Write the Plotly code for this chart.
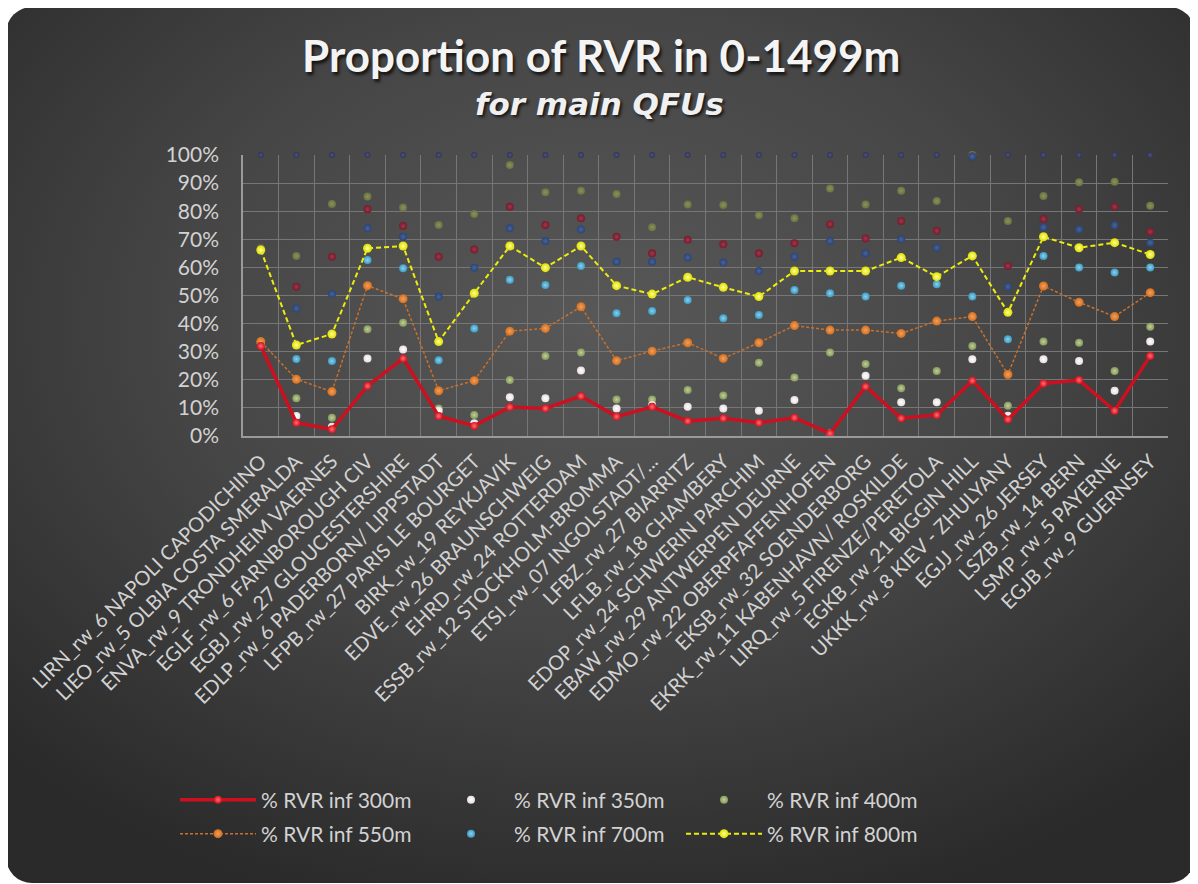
import base64
import plotly.graph_objects as go

categories = [
    "LIRN_rw_6 NAPOLI CAPODICHINO", "LIEO_rw_5 OLBIA COSTA SMERALDA", "ENVA_rw_9 TRONDHEIM VAERNES",
    "EGLF_rw_6 FARNBOROUGH CIV", "EGBJ_rw_27 GLOUCESTERSHIRE", "EDLP_rw_6 PADERBORN/ LIPPSTADT",
    "LFPB_rw_27 PARIS LE BOURGET", "BIRK_rw_19 REYKJAVIK", "EDVE_rw_26 BRAUNSCHWEIG",
    "EHRD_rw_24 ROTTERDAM", "ESSB_rw_12 STOCKHOLM-BROMMA", "ETSI_rw_07 INGOLSTADT/...",
    "LFBZ_rw_27 BIARRITZ", "LFLB_rw_18 CHAMBERY", "EDOP_rw_24 SCHWERIN PARCHIM",
    "EBAW_rw_29 ANTWERPEN DEURNE", "EDMO_rw_22 OBERPFAFFENHOFEN", "EKSB_rw_32 SOENDERBORG",
    "EKRK_rw_11 KABENHAVN/ ROSKILDE", "LIRQ_rw_5 FIRENZE/PERETOLA", "EGKB_rw_21 BIGGIN HILL",
    "UKKK_rw_8 KIEV - ZHULYANY", "EGJJ_rw_26 JERSEY", "LSZB_rw_14 BERN",
    "LSMP_rw_5 PAYERNE", "EGJB_rw_9 GUERNSEY",
]

rvr_300 = [32.0, 4.7, 2.4, 17.8, 27.6, 7.1, 3.6, 10.3, 9.8, 14.2, 6.9, 10.4, 5.3,
           6.3, 4.7, 6.5, 0.9, 17.6, 6.3, 7.5, 19.7, 5.9, 18.7, 19.9, 9.0, 28.5]
rvr_350 = [33.0, 7.1, 3.3, 27.6, 30.8, 9.0, 4.5, 13.8, 13.4, 23.3, 9.8, 11.0, 10.4,
           9.8, 9.0, 12.8, 0.9, 21.4, 12.0, 12.0, 27.3, 7.2, 27.3, 26.7, 16.1, 33.6]
rvr_400 = [33.6, 13.4, 6.5, 38.0, 40.3, 9.8, 7.5, 19.9, 28.5, 29.7, 13.0, 13.0, 16.4,
           14.4, 26.1, 20.8, 29.7, 25.6, 17.0, 23.1, 32.0, 10.8, 33.6, 33.2, 23.1, 38.9]
rvr_550 = [33.6, 20.2, 15.8, 53.5, 48.8, 16.1, 19.7, 37.3, 38.3, 46.0, 26.8, 30.2, 33.2,
           27.6, 33.2, 39.3, 37.7, 37.7, 36.5, 40.9, 42.5, 21.9, 53.4, 47.6, 42.5, 51.0]
rvr_700 = [66.0, 27.4, 26.7, 62.6, 59.7, 27.0, 38.3, 55.6, 53.7, 60.5, 43.7, 44.5, 48.4,
           41.9, 43.1, 52.0, 50.8, 49.6, 53.5, 54.0, 49.6, 34.4, 64.1, 60.0, 58.2, 60.0]
rvr_800 = [66.2, 32.4, 36.3, 66.8, 67.6, 33.6, 50.8, 67.6, 59.9, 67.6, 53.5, 50.5, 56.5,
           52.9, 49.6, 58.7, 58.7, 58.7, 63.5, 56.7, 64.1, 44.0, 70.9, 67.0, 68.8, 64.6]
# further series drawn without legend entries
rvr_1000 = [66.0, 45.4, 50.5, 73.9, 70.9, 49.6, 59.9, 73.9, 69.4, 73.5, 62.0, 62.0, 63.5,
            61.7, 58.7, 63.8, 69.4, 65.0, 70.0, 67.0, 99.5, 53.1, 74.3, 73.5, 75.0, 68.8]
rvr_1200 = [66.0, 53.1, 63.8, 80.7, 74.7, 63.8, 66.4, 81.6, 75.1, 77.5, 70.9, 65.0, 69.8,
            68.2, 65.0, 68.6, 75.4, 70.3, 76.5, 73.0, 99.5, 60.5, 77.2, 80.7, 81.6, 72.7]
rvr_1300 = [66.8, 64.1, 82.6, 85.2, 81.3, 75.1, 79.0, 96.4, 86.7, 87.3, 86.1, 74.3, 82.4,
            82.2, 78.6, 77.5, 88.1, 82.4, 87.3, 83.6, 100.0, 76.5, 85.4, 90.3, 90.5, 81.9]
rvr_1499 = [100, 100, 100, 100, 100, 100, 100, 100, 100, 100, 100, 100, 100,
            100, 100, 100, 100, 100, 100, 100, 100, 100, 100, 100, 100, 100]

# the page adds an 8px body margin; figure fills the rest of the 1198x884 window
OFF = 8
W, H = 1198 - OFF, 884 - OFF
ML, MT = 243 - OFF, 155 - OFF
MR = W - (1168 - OFF)
MB = H - (436 - OFF)
PW = W - ML - MR
PH = H - MT - MB


def px_x(page_x):
    return (page_x - OFF - ML) / PW


def px_y(page_y):
    return 1 - (page_y - OFF - MT) / PH


def frac(vals):
    return [v / 100 for v in vals]


svg = f'''<svg xmlns="http://www.w3.org/2000/svg" width="{W}" height="{H}" viewBox="0 0 {W} {H}">
<defs><radialGradient id="g" cx="0.5" cy="0.36" r="0.70">
<stop offset="0" stop-color="#585858"/><stop offset="0.5" stop-color="#464646"/>
<stop offset="1" stop-color="#2a2a2a"/></radialGradient></defs>
<rect x="0" y="0" width="{W}" height="{H}" fill="#ffffff"/>
<rect x="-2" y="-1" width="{W - 1}" height="{H}" rx="26" ry="26" fill="url(#g)"/></svg>'''
bg_src = "data:image/svg+xml;base64," + base64.b64encode(svg.encode()).decode()

fig = go.Figure()


def dots(name, vals, color, center, size=8, show=False, legend="legend", rank=100):
    fig.add_trace(go.Scatter(
        x=categories, y=frac(vals), name=name, mode="markers",
        marker=dict(color=color, size=size, line=dict(width=0),
                    gradient=dict(type="radial", color=center)),
        showlegend=show, legend=legend, legendrank=rank, cliponaxis=False,
    ))


def liner(name, vals, color, mcolor, center, width, dash, size, legend, rank):
    fig.add_trace(go.Scatter(
        x=categories, y=frac(vals), name=name, mode="lines+markers",
        line=dict(color=color, width=width, dash=dash),
        marker=dict(color=mcolor, size=size, line=dict(width=0),
                    gradient=dict(type="radial", color=center)),
        legend=legend, legendrank=rank, cliponaxis=False,
    ))


dots("% RVR inf 1500m", rvr_1499, "#30345c", "#50547c", size=6)
dots("% RVR inf 1300m", rvr_1300, "#6c7140", "#8c9160")
dots("% RVR inf 1200m", rvr_1200, "#781a2c", "#9a3a4c")
dots("% RVR inf 1000m", rvr_1000, "#2a4478", "#4a6498")
dots("% RVR inf 700m", rvr_700, "#3b9cc4", "#8fd0ec", show=True, legend="legend2", rank=2)
dots("% RVR inf 400m", rvr_400, "#86985a", "#c0d09a", show=True, legend="legend", rank=3)
dots("% RVR inf 350m", rvr_350, "#e8dede", "#ffffff", show=True, legend="legend", rank=2)
liner("% RVR inf 550m", rvr_550, "#c8702c", "#d46e1c", "#f0a060", 1.5, "3px,2px", 9, "legend2", 1)
liner("% RVR inf 800m", rvr_800, "#ecec10", "#dede00", "#ffff90", 2, "5px,3px", 9, "legend2", 3)
liner("% RVR inf 300m", rvr_300, "#cc1020", "#d41020", "#ff7070", 3.5, "solid", 8, "legend", 1)

ytick_font = dict(family="Lato", size=21, color="#d2d2d2")
xtick_font = dict(family="Lato", size=20, color="#d2d2d2")
legend_common = dict(
    orientation="h", xanchor="left", yanchor="middle", itemwidth=76, entrywidth=162,
    entrywidthmode="pixels", bgcolor="rgba(0,0,0,0)", font=dict(family="Lato", size=21, color="#d2d2d2"),
    traceorder="normal",
)

fig.update_layout(
    width=W, height=H,
    margin=dict(l=ML, r=MR, t=MT, b=MB, autoexpand=False),
    paper_bgcolor="#ffffff", plot_bgcolor="rgba(0,0,0,0)",
    images=[dict(source=bg_src, xref="paper", yref="paper", x=-ML / PW, y=1 + MT / PH,
                 sizex=W / PW, sizey=H / PH, sizing="stretch", layer="below",
                 xanchor="left", yanchor="top")],
    xaxis=dict(type="category", range=[-0.5, len(categories) - 0.5], tickson="boundaries",
               showgrid=True, gridcolor="#767676", gridwidth=1, showline=True, linecolor="#9a9a9a",
               linewidth=1.5, ticks="", tickangle=-45, tickfont=xtick_font, automargin=False,
               ticklabelstandoff=4),
    yaxis=dict(range=[0, 1], tickvals=[i / 10 for i in range(11)], tickformat=".0%",
               showgrid=True, gridcolor="#767676", gridwidth=1, showline=True, linecolor="#9a9a9a",
               linewidth=1.5, zeroline=False, ticks="", tickfont=ytick_font, automargin=False,
               ticklabelstandoff=18),
    legend=dict(x=px_x(175), y=px_y(800), **legend_common),
    legend2=dict(x=px_x(175), y=px_y(834), **legend_common),
    annotations=[
        dict(text="<b>Proportion of RVR in 0-1499m</b>", xref="paper", yref="paper",
             x=px_x(601), y=px_y(55), xanchor="center", yanchor="middle", showarrow=False,
             font=dict(family="Lato", size=44, color="#f4f4f4",
                       shadow="2px 3px 3px rgba(0,0,0,0.7)")),
        dict(text="<b><i>for main QFUs</i></b>", xref="paper", yref="paper",
             x=px_x(599), y=px_y(104), xanchor="center", yanchor="middle", showarrow=False,
             font=dict(family="DejaVu Sans", size=31, color="#f0f0f0",
                       shadow="2px 2px 3px rgba(0,0,0,0.7)")),
    ],
    showlegend=True,
)

fig.write_html("out.html")
